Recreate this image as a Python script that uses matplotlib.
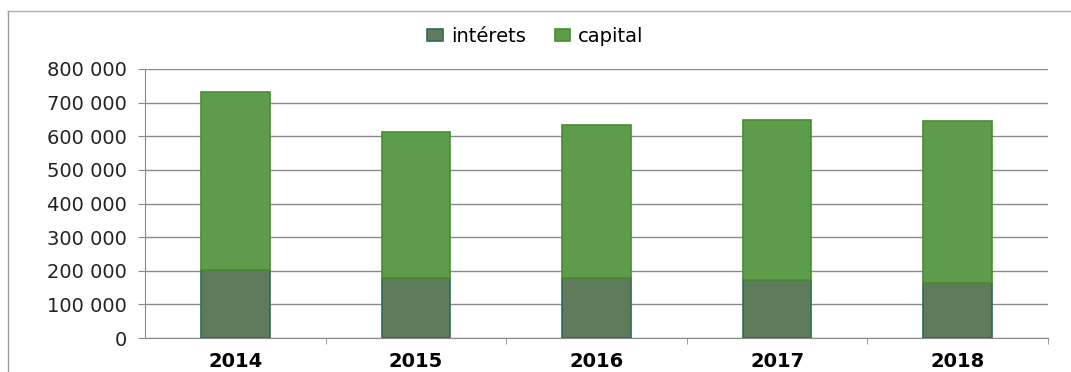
import matplotlib.pyplot as plt
from matplotlib.ticker import FuncFormatter
from matplotlib.lines import Line2D

# Donnees
annees = ["2014", "2015", "2016", "2017", "2018"]
interets = [202000, 178000, 178000, 173000, 164000]
capital = [530000, 435000, 456000, 476000, 482000]

fig = plt.figure(figsize=(10.71, 3.72), dpi=100)
ax = fig.add_axes([145 / 1071, 1 - 338 / 372, (1048 - 145) / 1071, (338 - 69) / 372])

# cadre du graphique (seulement haut et gauche visibles)
fig.lines.append(Line2D([8 / 1071, 8 / 1071], [0, 1 - 11 / 372], transform=fig.transFigure,
                        color="#9a9a9a", linewidth=1.0))
fig.lines.append(Line2D([8 / 1071, 1], [1 - 11 / 372, 1 - 11 / 372], transform=fig.transFigure,
                        color="#b0b0b0", linewidth=1.0))

x = range(len(annees))
ax.bar(x, interets, width=0.38, color="#5e7c5c", edgecolor="#2f6b52",
       linewidth=1.2, label="intérets", zorder=3)
ax.bar(x, capital, width=0.38, bottom=interets, color="#5c9c4a",
       edgecolor="#4a8c30", linewidth=1.2, label="capital", zorder=3)

ax.set_ylim(0, 800000)
ax.set_xlim(-0.5, len(annees) - 0.5)
ax.set_yticks(range(0, 800001, 100000))
ax.yaxis.set_major_formatter(FuncFormatter(lambda v, p: f"{int(v):,}".replace(",", " ")))
ax.yaxis.grid(True, color="#8a8a8a", linewidth=1.0, zorder=0)
ax.set_xticks(list(x))
ax.set_xticklabels(annees, fontweight="bold", fontsize=14)
ax.tick_params(axis="y", labelsize=14, length=5, color="#8a8a8a", pad=8, labelcolor="#222222")
ax.tick_params(axis="x", length=0, pad=10)
ax.set_xticks([i + 0.5 for i in range(len(annees))], minor=True)
ax.tick_params(axis="x", which="minor", length=4, color="#8a8a8a")

for s in ["top", "right"]:
    ax.spines[s].set_visible(False)
ax.spines["left"].set_color("#8a8a8a")
ax.spines["bottom"].set_color("#8a8a8a")

fig.legend(loc="upper center", bbox_to_anchor=(0.5, 0.975), ncol=2, frameon=False,
           fontsize=14, handlelength=0.8, handleheight=0.6, handletextpad=0.4,
           columnspacing=1.5)

fig.savefig("out.png", dpi=100)
